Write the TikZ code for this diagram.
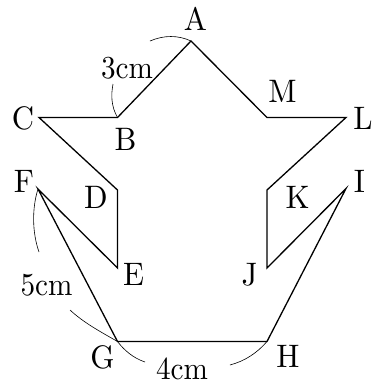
\documentclass[tikz,border=0pt]{standalone}
\tikzset{
  lab/.style={inner sep=0pt,xscale=3.08,yscale=3.25,text=black},
  dimlab/.style={inner sep=0pt,xscale=2.92,yscale=3.2,text=black},
  edge/.style={draw=black,line width=1.3pt,line join=miter,miter limit=10},
  dim/.style={draw=black,line width=0.6pt}
}
\begin{document}
\begin{tikzpicture}[x=1pt,y=-1pt]
\useasboundingbox (0,0) rectangle (372,381);
\coordinate (a) at (191,41);
\coordinate (b) at (117.5,117.5);
\coordinate (c) at (39,117.5);
\coordinate (d) at (117.5,190);
\coordinate (e) at (117.5,268);
\coordinate (f) at (38,189);
\coordinate (g) at (117.5,341.5);
\coordinate (h) at (267,341.5);
\coordinate (i) at (346,188.5);
\coordinate (j) at (267,268);
\coordinate (k) at (267,190);
\coordinate (l) at (346,117.5);
\coordinate (m) at (267,117.5);
\draw[edge] (a)--(b)--(c)--(d)--(e)--(f)--(g)--(h)--(i)--(j)--(k)--(l)--(m)--cycle;
\node[lab] (A) at (195.5,19) {A};
\node[lab] (B) at (125.5,139) {B};
\node[lab] (C) at (23,118) {C};
\node[lab] (D) at (96,197.5) {D};
\node[lab] (E) at (133.5,274.5) {E};
\node[lab] (F) at (24,181.5) {F};
\node[lab] (G) at (102.5,357.5) {G};
\node[lab] (H) at (288,356.5) {H};
\node[lab] (I) at (359.5,181.5) {I};
\node[lab] (J) at (249.5,275) {J};
\node[lab] (K) at (297.5,197.5) {K};
\node[lab] (L) at (363,118) {L};
\node[lab] (M) at (282.5,91.5) {M};
\node[dimlab] (t3) at (127,68) {3cm};
\node[dimlab] (t5) at (46.5,285.5) {5cm};
\node[dimlab] (t4) at (182,368.5) {4cm};
\coordinate (a1) at (150,41);
\coordinate (b1) at (113,84);
\coordinate (f1) at (39,252);
\coordinate (g1) at (70,310);
\coordinate (g2) at (145,362);
\coordinate (h1) at (230,365);
\draw[dim] (a) .. controls (178,35) and (164,35) .. (a1);
\draw[dim] (b) .. controls (111,106) and (111,95) .. (b1);
\draw[dim] (f) .. controls (32,208) and (32,232) .. (f1);
\draw[dim] (g) .. controls (101,332) and (84,323) .. (g1);
\draw[dim] (g) .. controls (124,350) and (133,358) .. (g2);
\draw[dim] (h) .. controls (257,353) and (245,361) .. (h1);
\end{tikzpicture}
\end{document}
